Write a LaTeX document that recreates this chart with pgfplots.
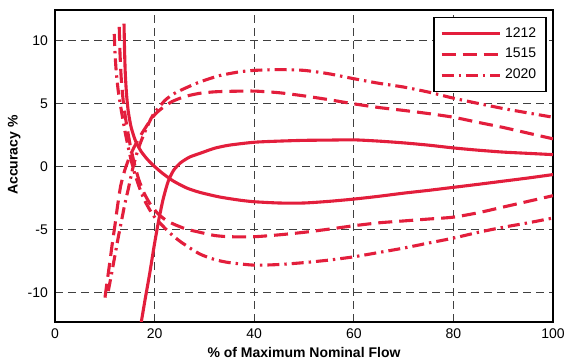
\documentclass[border=0pt]{standalone}
\usepackage{pgfplots}
\pgfplotsset{compat=1.18}
\usepackage{fontspec}
\setmainfont{Liberation Sans}
\definecolor{cred}{RGB}{227,30,60}
\begin{document}
\begin{tikzpicture}
\begin{axis}[
  scale only axis,
  width=249pt, height=156pt,
  xmin=0, xmax=100, ymin=-12.3, ymax=12.4,
  xtick={0,20,40,60,80,100},
  xticklabels={0,20,40,60,80,100},
  ytick={-10,-5,0,5,10},
  yticklabels={-10,-5,0,5,10},
  major tick length=0pt,
  grid=major,
  major grid style={black!75, line width=0.55pt, dash pattern=on 4pt off 2.5pt},
  axis line style={line width=0.9pt},
  tick label style={font=\fontsize{7}{8}\selectfont},
  label style={font=\fontsize{7}{8}\selectfont\bfseries},
  xlabel={\% of Maximum Nominal Flow},
  xlabel style={yshift=2.5pt},
  ylabel={Accuracy \%},
  ylabel style={at={(axis description cs:-0.082,0.535)}, anchor=center},
  legend style={at={(0.988,0.9785)}, anchor=north east, draw=black, line width=0.8pt,
    font=\fontsize{7}{8}\selectfont, row sep=0pt, inner xsep=3pt, inner ysep=3pt},
  legend cell align=left,
  legend image code/.code={\draw[#1] (0pt,0pt) -- (29pt,0pt);},
  every axis plot/.append style={cred, line width=1.55pt, smooth, tension=0.4, line cap=butt, no marks},
]
% 1212
\addplot[solid] coordinates {(13.86,11.32) (13.95,9.5) (14.1,7.5) (14.35,5.8) (14.7,4.4) (15.3,3.1) (16.2,2.0) (17.3,1.2) (18.5,0.6) (19.6,0.15) (21.5,-0.5) (23.8,-1.15) (26.5,-1.7) (29.1,-2.04) (33,-2.4) (37,-2.65) (40,-2.78) (45,-2.88) (50,-2.88) (55,-2.75) (60,-2.57) (65,-2.35) (70,-2.1) (75,-1.88) (80,-1.64) (85,-1.4) (90,-1.15) (95,-0.9) (100,-0.63)};
\addlegendentry{1212}
% 1515
\addplot[dash pattern=on 7pt off 3.5pt] coordinates {(12.9,11.06) (13.05,9) (13.3,7) (13.7,5.2) (14.3,3.5) (15.1,1.7) (15.9,0.3) (16.8,-1.0) (17.9,-2.1) (19.1,-2.95) (20.6,-3.7) (22.3,-4.25) (24.1,-4.6) (26.4,-4.95) (29.1,-5.2) (32,-5.45) (35,-5.55) (40,-5.55) (45,-5.4) (50,-5.2) (55,-4.95) (60,-4.68) (65,-4.45) (70,-4.3) (75,-4.15) (80,-4.0) (85,-3.65) (90,-3.2) (95,-2.75) (100,-2.3)};
\addlegendentry{1515}
% 2020
\addplot[dash pattern=on 6pt off 2.5pt on 1.2pt off 2.5pt] coordinates {(11.9,10.5) (12.05,9) (12.3,7.5) (12.7,6) (13.3,4.5) (14.1,2.7) (15.0,1.0) (15.9,-0.4) (16.9,-1.6) (17.9,-2.6) (19.0,-3.4) (20.1,-4.05) (21.4,-4.6) (23.2,-5.3) (25.4,-6.0) (29,-6.9) (32,-7.35) (35,-7.6) (40,-7.8) (45,-7.75) (50,-7.6) (55,-7.4) (60,-7.14) (65,-6.8) (70,-6.45) (75,-6.05) (80,-5.66) (85,-5.2) (90,-4.8) (95,-4.45) (100,-4.07)};
\addlegendentry{2020}
% second branches
\addplot[forget plot, solid] coordinates {(17.2,-12.6) (18.1,-10.5) (19.0,-8.5) (19.9,-6.3) (20.8,-4.3) (21.7,-2.6) (22.7,-1.2) (23.8,-0.3) (25.2,0.3) (27,0.75) (29.1,1.05) (32,1.45) (35,1.7) (40,1.93) (45,2.02) (50,2.08) (55,2.1) (60,2.12) (65,2.02) (70,1.88) (75,1.7) (80,1.48) (85,1.3) (90,1.15) (95,1.05) (100,0.95)};
\addplot[forget plot, dash pattern=on 7pt off 3.5pt] coordinates {(10.04,-10.37) (10.5,-9.0) (11.0,-7.6) (11.5,-6.1) (12.05,-4.6) (12.6,-3.0) (13.2,-1.5) (14.0,-0.3) (15.0,0.8) (16.1,1.7) (17.4,2.6) (18.7,3.4) (20.0,4.1) (21.4,4.6) (23.5,5.15) (26.1,5.55) (29,5.8) (32,5.92) (35,5.96) (40,5.98) (45,5.85) (50,5.6) (55,5.3) (60,4.97) (65,4.68) (70,4.45) (75,4.2) (80,3.91) (85,3.5) (90,3.1) (95,2.65) (100,2.2)};
\addplot[forget plot, dash pattern=on 6pt off 2.5pt on 1.2pt off 2.5pt] coordinates {(10.7,-9.85) (11.35,-8.5) (12.05,-7.0) (12.7,-5.6) (13.4,-4.2) (14.0,-3.0) (14.7,-1.8) (15.7,0.0) (16.8,1.5) (18.1,2.8) (19.7,4.1) (22.1,5.25) (24,5.8) (26.1,6.2) (29,6.69) (33,7.2) (37,7.5) (40,7.62) (45,7.68) (50,7.62) (55,7.35) (60,6.96) (65,6.6) (70,6.3) (75,5.9) (80,5.42) (85,5.0) (90,4.6) (95,4.25) (100,3.91)};
\end{axis}
\pgfresetboundingbox
\useasboundingbox ([shift={(-27.5pt,-20pt)}]current axis.south west) rectangle ([shift={(256pt,161pt)}]current axis.south west);
\end{tikzpicture}
\end{document}
